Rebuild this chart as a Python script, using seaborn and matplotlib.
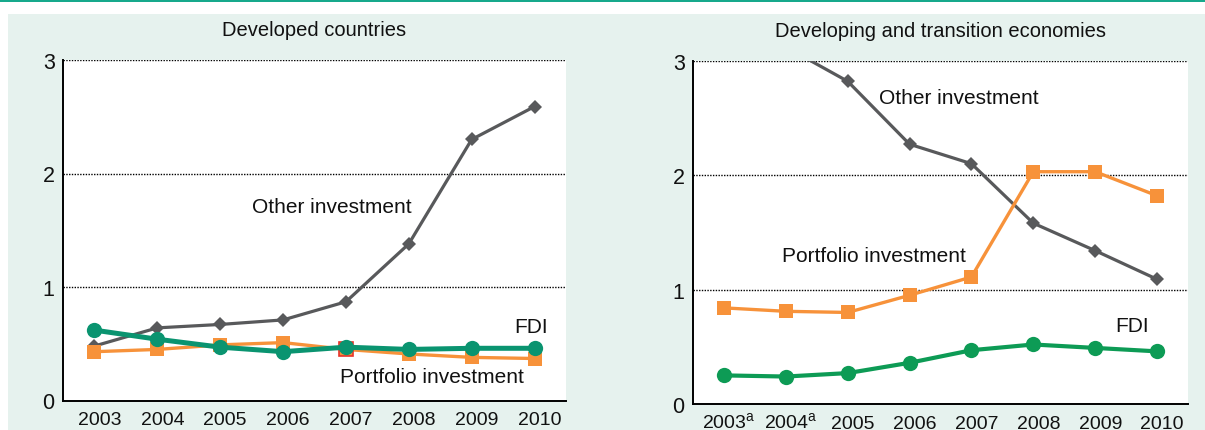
#!/usr/bin/env python3
"""
Two-panel line chart: investment flows, developed vs developing and transition economies.
"""

import matplotlib
matplotlib.use("Agg")
import matplotlib.pyplot as plt
import matplotlib.transforms as mtransforms
import pandas as pd
import seaborn as sns

# Years shared by both panels.
YEARS = [2003, 2004, 2005, 2006, 2007, 2008, 2009, 2010]

# Developed countries.
DEV_OTHER = [0.48, 0.64, 0.67, 0.71, 0.87, 1.38, 2.30, 2.59]
DEV_PORTFOLIO = [0.43, 0.45, 0.49, 0.51, 0.45, 0.41, 0.38, 0.37]
DEV_FDI = [0.62, 0.54, 0.47, 0.43, 0.47, 0.45, 0.46, 0.46]

# Developing and transition economies (other investment runs off the top in 2003-2004).
DVG_OTHER = [3.40, 3.12, 2.82, 2.27, 2.10, 1.58, 1.34, 1.09]
DVG_PORTFOLIO = [0.84, 0.81, 0.80, 0.95, 1.11, 2.03, 2.03, 1.82]
DVG_FDI = [0.25, 0.24, 0.27, 0.36, 0.47, 0.52, 0.49, 0.46]

DEV_TICKLABELS = [str(y) for y in YEARS]
DVG_TICKLABELS = [r"2003$^{\mathrm{a}}$", r"2004$^{\mathrm{a}}$"] + [str(y) for y in YEARS[2:]]

GREY = "#58595b"
ORANGE = "#f7923a"
GREEN_DEV = "#0a9470"
GREEN_DVG = "#0d9b55"
MINT = "#e6f2ee"
TEAL = "#17a98c"

sns.set_theme(style="white")
plt.rcParams["font.family"] = ["Liberation Sans", "DejaVu Sans"]
plt.rcParams["mathtext.fontset"] = "custom"
plt.rcParams["mathtext.rm"] = "Liberation Sans"

fig = plt.figure(figsize=(12.05, 4.31), dpi=100)
fig.patch.set_facecolor("white")

# Mint panel background and teal rule along the top.
fig.patches.append(plt.Rectangle((8 / 1205, 0), 1 - 8 / 1205, 1 - 15 / 431,
                                 transform=fig.transFigure, facecolor=MINT,
                                 edgecolor="none", zorder=-10))
fig.patches.append(plt.Rectangle((0, 1 - 3 / 431), 1, 3 / 431,
                                 transform=fig.transFigure, facecolor=TEAL,
                                 edgecolor="none", zorder=-10))

ax1 = fig.add_axes([63 / 1205, 29.5 / 431, 503 / 1205, 340.5 / 431])
ax2 = fig.add_axes([693 / 1205, 26 / 431, 495 / 1205, 343.3 / 431])


def draw_panel(ax, other, portfolio, fdi, green, fdi_lw, ticklabels, title, xpad):
    df = pd.DataFrame({"year": YEARS, "other": other,
                       "portfolio": portfolio, "fdi": fdi})
    sns.lineplot(data=df, x="year", y="other", ax=ax, color=GREY, lw=2.3,
                 marker="D", markersize=7, markeredgewidth=0, zorder=3)
    sns.lineplot(data=df, x="year", y="portfolio", ax=ax, color=ORANGE, lw=2.4,
                 marker="s", markersize=10, markeredgewidth=0, zorder=4)
    sns.lineplot(data=df, x="year", y="fdi", ax=ax, color=green, lw=fdi_lw,
                 marker="o", markersize=11, markeredgewidth=0, zorder=5)

    ax.set_facecolor("white")
    ax.set_xlim(2002.5, 2010.5)
    ax.set_ylim(0, 3)
    ax.set_xticks(YEARS)
    ax.set_xticklabels(ticklabels, va="baseline")
    ax.set_yticks([0, 1, 2, 3])
    ax.set_yticklabels(["0", "1", "2", "3"])
    ax.set_xlabel("")
    ax.set_ylabel("")
    ax.tick_params(axis="x", length=0, pad=xpad, labelsize=14, colors="#111111")
    ax.tick_params(axis="y", length=0, pad=6, labelsize=15.5, colors="#111111")
    offset = mtransforms.ScaledTranslation(5 / 100, 0, fig.dpi_scale_trans)
    for lbl in ax.get_xticklabels():
        lbl.set_transform(lbl.get_transform() + offset)
    for y in (1, 2, 3):
        ax.axhline(y, color="black", lw=1.0, ls=(0, (1, 1)), zorder=1)
    for side in ("top", "right"):
        ax.spines[side].set_visible(False)
    for side in ("left", "bottom"):
        ax.spines[side].set_color("black")
        ax.spines[side].set_linewidth(1.4)
    ax.set_title(title, fontsize=14.5, color="#111111", pad=18)


draw_panel(ax1, DEV_OTHER, DEV_PORTFOLIO, DEV_FDI, GREEN_DEV, 3.6,
           DEV_TICKLABELS, "Developed countries", 16.8)
draw_panel(ax2, DVG_OTHER, DVG_PORTFOLIO, DVG_FDI, GREEN_DVG, 3.0,
           DVG_TICKLABELS, "Developing and transition economies", 17.5)

# Red-outlined portfolio marker in 2007 (developed panel).
ax1.plot([2007], [DEV_PORTFOLIO[4]], marker="s", markersize=10, color=ORANGE,
         markeredgecolor="#e8332a", markeredgewidth=1.2, zorder=4.5)

label_kw = dict(fontsize=15, color="#111111", va="center", ha="left")
ax1.text(2005.5, 1.71, "Other investment", **label_kw)
ax1.text(2009.67, 0.65, "FDI", **label_kw)
ax1.text(2006.9, 0.21, "Portfolio investment", **label_kw)
ax2.text(2005.51, 2.68, "Other investment", **label_kw)
ax2.text(2003.94, 1.30, "Portfolio investment", **label_kw)
ax2.text(2009.32, 0.69, "FDI", **label_kw)

fig.savefig("out.png", dpi=100, facecolor=fig.get_facecolor())
